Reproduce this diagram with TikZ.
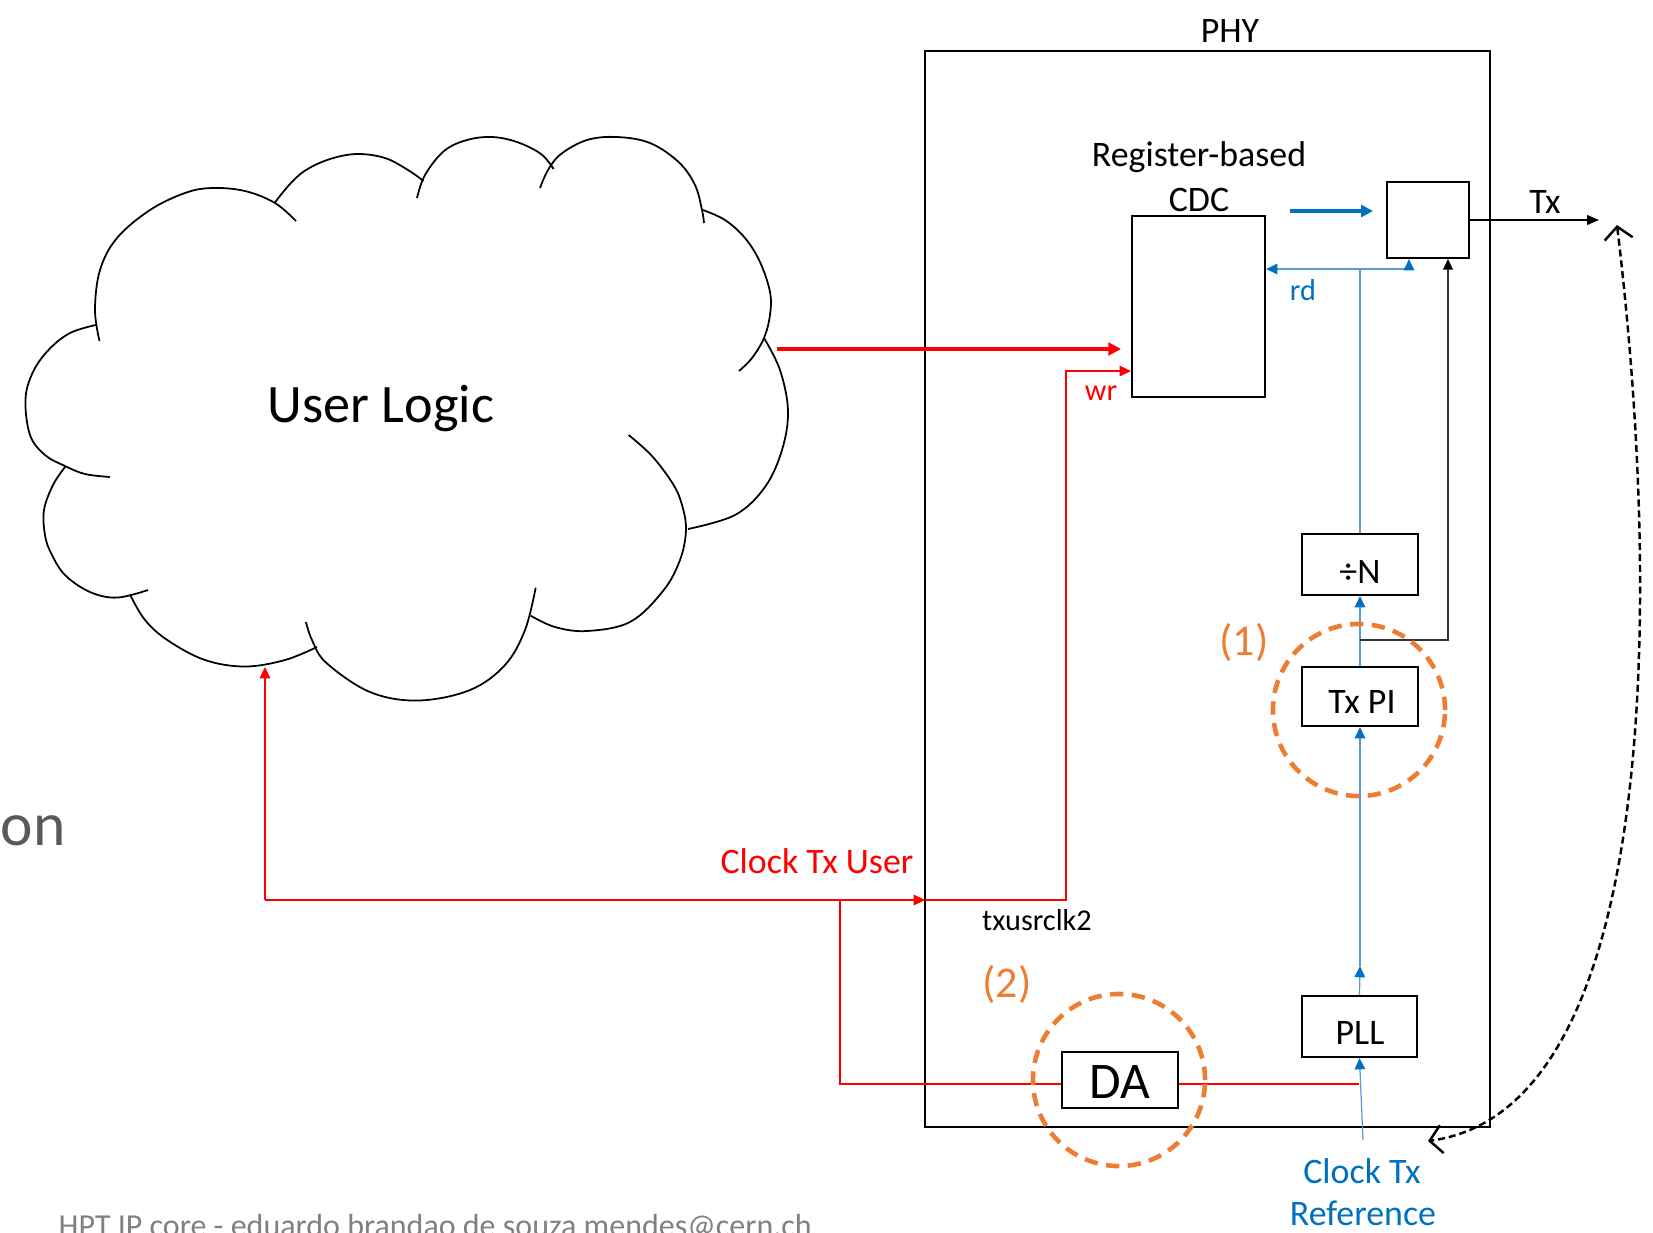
\documentclass[tikz,border=0pt]{standalone}
\usepackage{fontspec}
\setmainfont{Carlito}
\usetikzlibrary{arrows.meta}
\definecolor{myred}{RGB}{255,0,0}
\definecolor{myblue}{RGB}{0,112,192}
\definecolor{lblue}{RGB}{91,155,213}
\definecolor{orng}{RGB}{237,125,49}
\definecolor{gtext}{RGB}{89,89,89}
\definecolor{gfoot}{RGB}{128,128,128}
\begin{document}
\begin{tikzpicture}[x=0.01cm,y=-0.01cm,
  box/.style={draw, line width=0.6pt, inner sep=0pt},
  lbl/.style={anchor=base, inner sep=0pt},
  cloudline/.style={line width=0.5pt},
  thinred/.style={myred, line width=0.35pt},
  thinblue/.style={lblue, line width=0.35pt},
  redtip/.style={-{Triangle[length=3.2pt,width=3pt]}},
  bluetip/.style={-{Triangle[length=3.2pt,width=3pt,color=myblue]}},
  ring/.style={orng, line width=1.3pt, dash pattern=on 3.8pt off 2.4pt},
  fA/.style={font=\fontsize{10.2pt}{12pt}\selectfont},
  fB/.style={font=\fontsize{10.2pt}{12pt}\selectfont},
  fC/.style={font=\fontsize{8.6pt}{10pt}\selectfont},
  fN/.style={font=\fontsize{12.5pt}{14pt}\selectfont},
]
\clip (0,0) rectangle (1653,1232);

% ---------- cloud ----------
\draw[cloudline] plot[smooth, tension=0.6] coordinates {(99.5,341) (95,310) (100,270) (117,238) (150,210) (185,193) (212,188) (245,191) (275,203) (296,221)};
\draw[cloudline] plot[smooth, tension=0.6] coordinates {(274.5,203) (290,184) (306,170) (330,159) (357,154) (385,158) (408,170) (423.5,181)};
\draw[cloudline] plot[smooth, tension=0.6] coordinates {(417,198) (425,175) (444,151) (467,140) (492,137) (517,142) (541,154) (553.6,169)};
\draw[cloudline] plot[smooth, tension=0.6] coordinates {(540,188) (548,170) (561,154) (587,140) (617,137) (650,143) (678.6,162) (695,185) (702,210) (704,223)};
\draw[cloudline] plot[smooth, tension=0.6] coordinates {(703,210) (725,220) (745,238) (760,262) (770,292) (770,315) (764,338) (752,358) (739,371)};
\draw[cloudline] plot[smooth, tension=0.6] coordinates {(764,338) (780,370) (788,411) (782,450) (765,487) (735,515) (688,529)};
\draw[cloudline] plot[smooth, tension=0.6] coordinates {(628.6,435) (652,456) (673,484) (682,505) (686,530) (680,560) (663,591) (630,622) (587,631) (555,627) (530.6,615.6)};
\draw[cloudline] plot[smooth, tension=0.6] coordinates {(535.7,587.7) (525,630) (505,665) (470,690) (418,700.5) (370,692) (326.5,663) (312,640) (306,622)};
\draw[cloudline] plot[smooth, tension=0.6] coordinates {(317,647) (285,660) (245,666.5) (205,660) (168,640.5) (145,620) (130,594.5)};
\draw[cloudline] plot[smooth, tension=0.6] coordinates {(65,467) (53,485) (44,510) (45,535) (51,553) (65,575) (90,592) (117,597.6) (148,590)};
\draw[cloudline] plot[smooth, tension=0.6] coordinates {(97,324.7) (70,333) (48.5,350) (33,372) (25.5,399) (30,435) (45,455) (65,466) (85,474) (110,477)};
\node[lbl, font=\fontsize{15.4pt}{18pt}\selectfont] (ul) at (381,422) {User Logic};
\coordinate (cloudbot) at (265,667);
\coordinate (cloudout) at (777,349);

% ---------- side texts ----------
\node[lbl, anchor=base west, text=gtext, font=\fontsize{17.5pt}{21pt}\selectfont] (on) at (0,845) {on};
\node[lbl, anchor=base west, text=gfoot, font=\fontsize{9.1pt}{11pt}\selectfont] (foot) at (58,1236) {HPT IP core - eduardo brandao de souza mendes@cern.ch};

% ---------- PHY ----------
\node[box, minimum width=5.65cm, minimum height=10.76cm] (phy) at (1207.5,589) {};
\node[lbl, fA] (phyl) at (1230,42) {PHY};

\node[box, minimum width=1.33cm, minimum height=1.81cm] (cdc) at (1198.5,306.5) {};
\node[lbl, fB] (cdcl1) at (1199,166.7) {Register-based};
\node[lbl, fB] (cdcl2) at (1199,211) {CDC};

\node[box, minimum width=0.82cm, minimum height=0.76cm] (reg) at (1428,220) {};
\node[box, minimum width=1.16cm, minimum height=0.61cm] (divn) at (1360,564.5) {};
\node[lbl, fA] (divnl) at (1360,583) {÷N};
\node[box, minimum width=1.16cm, minimum height=0.59cm] (txpi) at (1360,696.5) {};
\node[lbl, fA] (txpil) at (1362,713) {Tx PI};
\node[box, minimum width=1.15cm, minimum height=0.61cm] (pll) at (1359.5,1026.5) {};
\node[lbl, fB] (plll) at (1360,1044) {PLL};
\node[box, minimum width=1.16cm, minimum height=0.56cm] (da) at (1120,1080) {};
\node[lbl, font=\fontsize{14.6pt}{17pt}\selectfont] (dal) at (1120,1098) {DA};

% ---------- labels ----------
\node[lbl, fC, text=myblue] (rdl) at (1303,300) {rd};
\node[lbl, fC, text=myred] (wrl) at (1101,400) {wr};
\node[lbl, fC] (txu) at (1037,930) {txusrclk2};
\node[lbl, fA, text=myred] (ctu) at (817,873) {Clock Tx User};
\node[lbl, fN, text=orng] (one) at (1244,655) {(1)};
\node[lbl, fN, text=orng] (two) at (1007,997) {(2)};
\node[lbl, fB, text=myblue] (ctr1) at (1362,1183) {Clock Tx};
\node[lbl, fB, text=myblue] (ctr2) at (1363,1225) {Reference};
\node[lbl, fB] (txl) at (1545,213) {Tx};

% ---------- coordinates ----------
\coordinate (cu) at (265,900);
\coordinate (phyin) at (925,900);
\coordinate (wrx) at (1066,900);
\coordinate (wrtop) at (1066,371);
\coordinate (dax) at (840,900);
\coordinate (dabot) at (840,1084);
\coordinate (daend) at (1359,1084);
\coordinate (rdj) at (1360,269);
\coordinate (rdr) at (1409,269);
\coordinate (blk) at (1360,640);
\coordinate (blkr) at (1448,640);
\coordinate (pllmid) at (1360,966);
\coordinate (ctrtop) at (1363,1140);
\coordinate (ba1) at (1290,211);
\coordinate (ba2) at (1373,211);
\coordinate (thick) at (1121,349);
\coordinate (txend) at (1599,220);
\coordinate (dtop) at (1617,225);
\coordinate (dbot) at (1428,1141);

% ---------- red connectors ----------
\draw[myred, line width=1.3pt, -{Triangle[length=3.6pt,width=3.6pt]}] (cloudout) -- (thick);
\draw[thinred, redtip] (cu) -- (cloudbot);
\draw[thinred, redtip] (cu) -- (phyin);
\draw[thinred, redtip] (phyin) -- (wrx) -- (wrtop) -- (wrtop -| cdc.west);
\draw[thinred] (dax) -- (dabot) -- (da.west |- dabot);
\draw[thinred] (da.east |- dabot) -- (daend);

% ---------- blue connectors ----------
\draw[myblue, line width=1pt, -{Triangle[length=3.4pt,width=3.4pt]}] (ba1) -- (ba2);
\draw[thinblue] (divn.north) -- (rdj);
\draw[thinblue, bluetip] (rdj) -- (rdj -| cdc.east);
\draw[thinblue, bluetip] (rdj) -- (rdr) -- (rdr |- reg.south);
\draw[thinblue, bluetip] (txpi.north) -- (divn.south);
\draw[thinblue, bluetip] (pll.north) -- (pllmid);
\draw[thinblue, bluetip] (pllmid) -- (txpi.south);
\draw[thinblue, bluetip] (ctrtop) -- (pll.south);

% ---------- black connectors ----------
\draw[black!80, line width=0.4pt, -{Triangle[length=3pt,width=2.8pt,color=black]}] (blk) -- (blkr) -- (blkr |- reg.south);
\draw[line width=0.35pt, -{Triangle[length=3.4pt,width=2.8pt]}] (reg.east) -- (txend);
\draw[line width=0.7pt, dash pattern=on 2pt off 1.1pt, {Straight Barb[length=3.5pt,width=8pt]}-{Straight Barb[length=3.5pt,width=8pt]}] (dtop) .. controls (1662,600) and (1660,1110) .. (dbot);

% ---------- orange rings ----------
\node[ring, draw, circle, minimum size=1.72cm, inner sep=0pt] (ring1) at (1359,710) {};
\node[ring, draw, circle, minimum size=1.72cm, inner sep=0pt] (ring2) at (1119,1080) {};
\end{tikzpicture}
\end{document}
